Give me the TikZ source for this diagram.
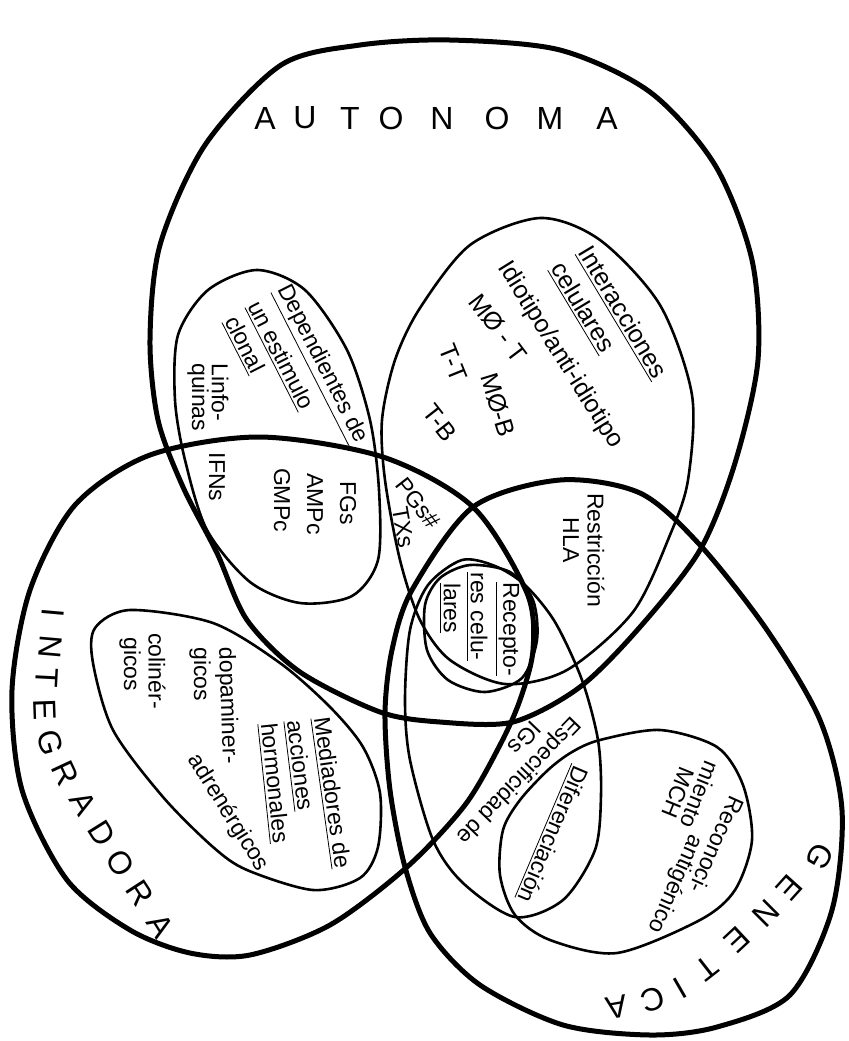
\documentclass[tikz,border=0pt]{standalone}
\usepackage{fontspec}
\setmainfont{Liberation Sans}

\begin{document}
\begin{tikzpicture}[
    x=0.5pt, y=-0.5pt,
    conjunto/.style={line width=2.5pt},
    subconj/.style={line width=1.3pt},
    rotulo/.style={font=\fontsize{11.5}{13}\selectfont, inner sep=0pt},
    rotulogr/.style={font=\fontsize{12.5}{14}\selectfont, inner sep=0pt},
    titulo/.style={font=\fontsize{16}{18}\selectfont, inner sep=0pt}
]
    \useasboundingbox (0,0) rectangle (848,1041);
    % los tres conjuntos grandes
    \draw[conjunto] plot[smooth cycle] coordinates {(450,40) (560,50) (650,92) (715,165) (752,260) (758,360) (735,463) (700,550) (640,627) (580,687) (513,722) (440,722) (380,712) (300,672) (247,620) (217,553) (183,487) (158,420) (150,340) (160,245) (205,145) (281,65) (360,45)};
    \draw[conjunto] plot[smooth cycle] coordinates {(260,437) (383,457) (473,507) (527,593) (533,650) (520,700) (500,745) (465,805) (407,867) (330,925) (250,955) (190,953) (130,930) (67,880) (22,790) (12,690) (30,590) (75,505) (150,455)};
    \draw[conjunto] plot[smooth cycle] coordinates {(560,480) (640,493) (700,545) (767,630) (820,720) (842,810) (832,910) (790,995) (717,1027) (650,1035) (563,1025) (480,985) (430,933) (405,867) (390,790) (385,713) (392,650) (412,590) (473,507)};
    % subconjuntos
    \draw[subconj] plot[smooth cycle] coordinates {(257,270) (305,290) (347,350) (370,420) (379,490) (378,560) (352,596) (300,603) (250,582) (207,530) (185,460) (175,400) (178,335) (208,290)};
    \draw[subconj] plot[smooth cycle] coordinates {(540,218) (600,240) (660,305) (692,395) (688,480) (670,535) (633,612) (567,670) (505,684) (450,660) (420,620) (400,560) (385,480) (382,420) (395,360) (420,308) (470,245)};
    \draw[subconj] plot[smooth cycle] coordinates {(470,565) (510,572) (533,600) (537,640) (522,678) (485,692) (448,680) (427,650) (425,605) (440,578)};
    \draw[subconj] plot[smooth cycle] coordinates {(462,560) (495,566) (525,585) (555,622) (582,680) (598,740) (601,795) (595,850) (563,900) (515,917) (463,883) (433,840) (410,760) (405,700) (410,630) (428,585)};
    \draw[subconj] plot[smooth cycle] coordinates {(600,740) (660,730) (717,747) (743,785) (752,840) (735,890) (700,920) (617,953) (550,940) (515,915) (500,875) (503,830) (520,800) (548,770) (572,752)};
    \draw[subconj] plot[smooth cycle] coordinates {(130,610) (213,623) (280,663) (330,707) (363,747) (380,793) (378,847) (360,878) (313,890) (247,870) (213,847) (163,797) (113,730) (93,663) (95,628)};

    % titulos
    \foreach \ch/\px [count=\i] in {A/265, U/305, T/350, O/391, N/442, O/497, M/550, A/607}
        \node[titulo] (aut\i) at (\px,118) {\ch};
    \foreach \ch/\px/\py/\ang [count=\i] in {I/53/613/-95, N/50/647/-95, T/47/678/-93, E/45/710/-88, G/50/743/-75, R/65/773/-65, A/83/803/-60, D/102/833/-58, O/120/863/-58, R/140/893/-57, A/160/926/-58}
        \node[titulo, rotate=\ang] (int\i) at (\px,\py) {\ch};
    \foreach \ch/\px/\py/\ang [count=\i] in {G/820/857/-120, E/790/888/-132, N/766/913/-135, E/737/940/-137, T/707/968/-142, I/680/988/-150, C/653/1000/-162, A/617/1007/-170}
        \node[titulo, rotate=\ang] (gen\i) at (\px,\py) {\ch};

    % dependientes de un estimulo clonal
    \node[rotulo, rotate=-63, anchor=west] (dep1) at (281,287) {\underline{Dependientes de}};
    \node[rotulo, rotate=-63, anchor=west] (dep2) at (253,303) {\underline{un estimulo}};
    \node[rotulo, rotate=-63, anchor=west] (dep3) at (230,318) {\underline{clonal}};
    \node[rotulo, rotate=-90, anchor=west] (linf1) at (220,363) {Linfo-};
    \node[rotulo, rotate=-90, anchor=west] (linf2) at (198,363) {quinas};
    \node[rotulo, rotate=-90] (ifn) at (217,477) {IFNs};
    \node[rotulo, rotate=-90] (fgs) at (348,503) {FGs};
    \node[rotulo, rotate=-90] (amp) at (315,504) {AMPc};
    \node[rotulo, rotate=-90] (gmp) at (282,500) {GMPc};
    \node[rotulo, rotate=-52] (pgs) at (418,503) {PGs\#};
    \node[rotulo, rotate=-80] (txs) at (403,527) {TXs};

    % interacciones celulares
    \node[rotulogr, rotate=-59] (int1) at (622,313) {\underline{Interacciones}};
    \node[rotulogr, rotate=-59] (int2) at (582,308) {\underline{celulares}};
    \node[rotulogr, rotate=-58] (idio) at (560,355) {Idiotipo/anti-idiotipo};
    \node[rotulogr, rotate=-53] (mt) at (498,328) {MØ - T};
    \node[rotulogr, rotate=-68] (tt) at (453,363) {T-T};
    \node[rotulogr, rotate=-73] (mb) at (498,405) {MØ-B};
    \node[rotulogr, rotate=-52] (tb) at (440,423) {T-B};

    % restriccion, receptores
    \node[rotulo, rotate=-90] (res1) at (596,550) {Restricción};
    \node[rotulo, rotate=-90] (res2) at (571,540) {HLA};
    \node[rotulo, rotate=-90, anchor=west] (rec1) at (507,582) {\underline{Recepto-}};
    \node[rotulo, rotate=-90, anchor=west] (rec2) at (477,572) {\underline{res celu-}};
    \node[rotulo, rotate=-90, anchor=west] (rec3) at (450,583) {\underline{lares}};

    % especificidad, diferenciacion, reconocimiento
    \node[rotulo, rotate=-134] (esp1) at (518,780) {Especificidad de};
    \node[rotulo, rotate=-134] (esp2) at (525,738) {IGs};
    \node[rotulo, rotate=-113] (dif) at (552,834) {\underline{Diferenciación}};
    \node[rotulo, rotate=-114] (rcn1) at (717,845) {Reconoci-};
    \node[rotulo, rotate=-112] (rcn2) at (700,795) {miento};
    \node[rotulo, rotate=-114] (rcn3) at (675,884) {antigénico};
    \node[rotulo, rotate=-112] (rcn4) at (678,793) {MCH};

    % mediadores de acciones hormonales
    \node[rotulo, rotate=-82, anchor=west] (med1) at (320,717) {\underline{Mediadores de}};
    \node[rotulo, rotate=-83, anchor=west] (med2) at (293,720) {\underline{acciones}};
    \node[rotulo, rotate=-84, anchor=west] (med3) at (267,723) {\underline{hormonales}};
    \node[rotulo, rotate=-88, anchor=west] (dop1) at (225,647) {dopaminer-};
    \node[rotulo, rotate=-90, anchor=west] (dop2) at (200,647) {gicos};
    \node[rotulo, rotate=-58] (adr) at (228,813) {adrenérgicos};
    \node[rotulo, rotate=-90, anchor=west] (col1) at (157,633) {colinér-};
    \node[rotulo, rotate=-90, anchor=west] (col2) at (130,637) {gicos};
\end{tikzpicture}
\end{document}
